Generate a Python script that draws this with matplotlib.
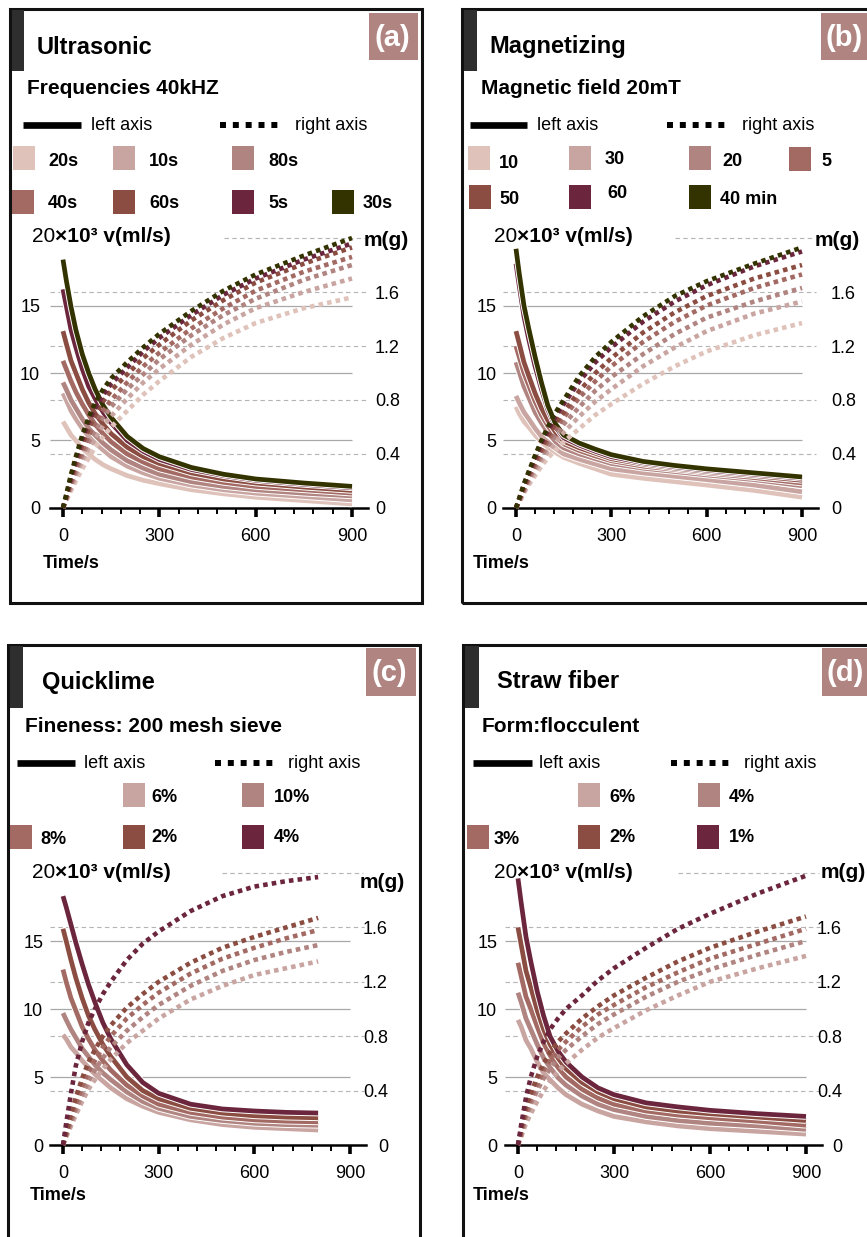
import matplotlib
matplotlib.use("Agg")
import matplotlib.pyplot as plt
import matplotlib.patheffects as pe
from matplotlib.patches import Rectangle
from matplotlib.lines import Line2D
from matplotlib.ticker import MultipleLocator

plt.rcParams['font.family'] = ['Liberation Sans', 'DejaVu Sans']

W, H = 867, 1237

# colour ramp, light to dark
PINK_1 = '#dfc3bb'
PINK_2 = '#c9a5a2'
PINK_3 = '#b08480'
PINK_4 = '#a36a64'
BROWN = '#8b4c41'
WINE = '#6b263e'
OLIVE = '#333300'

# ---- (a) ultrasonic ----
a_time = [0, 10, 25, 40, 60, 80, 100, 125, 150, 200, 250, 300, 400, 500, 600, 750, 900]
a_labels = ['20s', '10s', '80s', '40s', '60s', '5s', '30s']
a_colors = [PINK_1, PINK_2, PINK_3, PINK_4, BROWN, WINE, OLIVE]
a_flow = [
    [6.4, 6.0, 5.4, 5.0, 4.4, 4.0, 3.6, 3.2, 2.9, 2.4, 2.05, 1.8, 1.35, 1.05, 0.8, 0.55, 0.3],
    [8.5, 8.0, 7.2, 6.6, 5.9, 5.3, 4.8, 4.3, 3.8, 3.1, 2.6, 2.2, 1.7, 1.35, 1.1, 0.85, 0.6],
    [9.3, 8.8, 8.0, 7.4, 6.6, 5.9, 5.4, 4.8, 4.3, 3.5, 2.95, 2.5, 1.95, 1.6, 1.35, 1.1, 0.9],
    [10.9, 10.3, 9.4, 8.6, 7.7, 6.9, 6.2, 5.5, 4.9, 4.0, 3.4, 2.9, 2.3, 1.9, 1.6, 1.35, 1.1],
    [13.1, 12.2, 10.9, 10.0, 8.8, 7.8, 7.0, 6.2, 5.5, 4.5, 3.8, 3.3, 2.6, 2.15, 1.85, 1.55, 1.3],
    [16.2, 15.0, 13.2, 11.9, 10.3, 9.0, 8.1, 7.1, 6.3, 5.0, 4.2, 3.6, 2.85, 2.4, 2.05, 1.75, 1.5],
    [18.4, 16.9, 14.9, 13.2, 11.4, 10.0, 8.8, 7.6, 6.7, 5.3, 4.4, 3.8, 3.0, 2.5, 2.15, 1.85, 1.6],
]
a_mass = [
    [0, 0.05, 0.13, 0.20, 0.29, 0.37, 0.45, 0.53, 0.60, 0.72, 0.84, 0.94, 1.12, 1.26, 1.37, 1.48, 1.56],
    [0, 0.06, 0.15, 0.24, 0.35, 0.44, 0.52, 0.61, 0.68, 0.81, 0.93, 1.03, 1.21, 1.36, 1.48, 1.60, 1.70],
    [0, 0.07, 0.17, 0.27, 0.39, 0.49, 0.58, 0.67, 0.75, 0.88, 0.99, 1.10, 1.28, 1.43, 1.55, 1.69, 1.80],
    [0, 0.07, 0.19, 0.30, 0.42, 0.54, 0.63, 0.72, 0.80, 0.93, 1.05, 1.15, 1.33, 1.48, 1.61, 1.75, 1.86],
    [0, 0.08, 0.21, 0.33, 0.47, 0.59, 0.69, 0.79, 0.87, 0.99, 1.11, 1.21, 1.39, 1.54, 1.67, 1.81, 1.93],
    [0, 0.09, 0.23, 0.36, 0.51, 0.64, 0.74, 0.84, 0.92, 1.04, 1.16, 1.26, 1.43, 1.58, 1.70, 1.84, 1.96],
    [0, 0.10, 0.25, 0.38, 0.54, 0.67, 0.78, 0.88, 0.96, 1.08, 1.19, 1.29, 1.46, 1.61, 1.73, 1.87, 2.00],
]

# ---- (b) magnetizing ----
b_time = [0, 10, 25, 40, 60, 80, 100, 125, 150, 200, 250, 300, 400, 500, 600, 750, 900]
b_labels = ['10', '30', '20', '5', '50', '60', '40 min']
b_colors = [PINK_1, PINK_2, PINK_3, PINK_4, BROWN, WINE, OLIVE]
b_flow = [
    [7.5, 7.0, 6.4, 6.0, 5.4, 4.9, 4.5, 4.1, 3.75, 3.3, 2.9, 2.5, 2.2, 1.95, 1.7, 1.3, 0.8],
    [8.3, 7.8, 7.1, 6.6, 5.9, 5.3, 4.9, 4.4, 4.0, 3.6, 3.25, 2.9, 2.6, 2.35, 2.1, 1.7, 1.2],
    [10.8, 10.1, 9.0, 8.2, 7.1, 6.3, 5.6, 4.9, 4.45, 4.0, 3.65, 3.3, 2.95, 2.7, 2.45, 2.1, 1.65],
    [12.0, 11.2, 10.0, 9.1, 7.9, 6.9, 6.1, 5.3, 4.75, 4.25, 3.85, 3.5, 3.1, 2.85, 2.6, 2.25, 1.85],
    [13.1, 12.2, 10.8, 9.8, 8.5, 7.4, 6.5, 5.6, 4.95, 4.45, 4.05, 3.65, 3.25, 2.95, 2.7, 2.4, 2.05],
    [18.1, 16.5, 14.2, 12.5, 10.5, 8.8, 7.3, 6.0, 5.2, 4.65, 4.2, 3.8, 3.35, 3.05, 2.8, 2.5, 2.2],
    [19.2, 17.4, 15.0, 13.3, 11.2, 9.3, 7.6, 6.2, 5.4, 4.8, 4.35, 3.95, 3.45, 3.15, 2.9, 2.6, 2.3],
]
b_mass = [
    [0, 0.04, 0.11, 0.17, 0.24, 0.31, 0.37, 0.43, 0.49, 0.59, 0.69, 0.77, 0.92, 1.05, 1.16, 1.28, 1.37],
    [0, 0.05, 0.12, 0.19, 0.27, 0.35, 0.42, 0.49, 0.56, 0.68, 0.79, 0.88, 1.05, 1.19, 1.31, 1.44, 1.53],
    [0, 0.05, 0.13, 0.21, 0.30, 0.38, 0.46, 0.54, 0.62, 0.75, 0.87, 0.97, 1.14, 1.29, 1.41, 1.53, 1.63],
    [0, 0.06, 0.14, 0.23, 0.32, 0.41, 0.50, 0.59, 0.67, 0.82, 0.94, 1.05, 1.23, 1.38, 1.50, 1.63, 1.73],
    [0, 0.06, 0.15, 0.24, 0.34, 0.44, 0.53, 0.63, 0.71, 0.87, 1.00, 1.11, 1.30, 1.45, 1.57, 1.70, 1.80],
    [0, 0.07, 0.17, 0.26, 0.37, 0.48, 0.57, 0.68, 0.77, 0.94, 1.08, 1.19, 1.38, 1.53, 1.65, 1.79, 1.90],
    [0, 0.07, 0.18, 0.27, 0.39, 0.50, 0.60, 0.71, 0.80, 0.98, 1.12, 1.23, 1.42, 1.57, 1.68, 1.81, 1.93],
]

# ---- (c) quicklime ----
c_time = [0, 10, 25, 40, 60, 80, 100, 125, 150, 200, 250, 300, 400, 500, 600, 700, 800]
c_labels = ['6%', '10%', '8%', '2%', '4%']
c_colors = [PINK_2, PINK_3, PINK_4, BROWN, WINE]
c_flow = [
    [8.1, 7.8, 7.2, 6.8, 6.2, 5.7, 5.2, 4.7, 4.2, 3.4, 2.85, 2.4, 1.85, 1.5, 1.3, 1.2, 1.1],
    [9.7, 9.2, 8.5, 7.9, 7.1, 6.5, 5.9, 5.3, 4.8, 3.9, 3.2, 2.7, 2.1, 1.8, 1.6, 1.5, 1.45],
    [12.9, 12.0, 10.8, 9.9, 8.7, 7.8, 7.0, 6.2, 5.5, 4.4, 3.6, 3.0, 2.4, 2.05, 1.85, 1.75, 1.7],
    [15.9, 15.0, 13.6, 12.3, 10.8, 9.5, 8.5, 7.4, 6.5, 5.0, 4.0, 3.4, 2.7, 2.35, 2.15, 2.05, 2.0],
    [18.3, 17.5, 16.2, 14.9, 13.3, 11.8, 10.5, 9.0, 7.8, 5.9, 4.6, 3.8, 3.0, 2.65, 2.5, 2.4, 2.35],
]
c_mass = [
    [0, 0.06, 0.14, 0.22, 0.32, 0.41, 0.48, 0.56, 0.63, 0.75, 0.84, 0.93, 1.07, 1.17, 1.25, 1.30, 1.35],
    [0, 0.07, 0.17, 0.26, 0.37, 0.47, 0.55, 0.64, 0.72, 0.84, 0.94, 1.03, 1.17, 1.28, 1.36, 1.42, 1.47],
    [0, 0.08, 0.19, 0.30, 0.43, 0.54, 0.62, 0.72, 0.80, 0.93, 1.03, 1.12, 1.26, 1.37, 1.45, 1.52, 1.58],
    [0, 0.09, 0.23, 0.35, 0.49, 0.61, 0.70, 0.80, 0.88, 1.01, 1.11, 1.20, 1.34, 1.45, 1.53, 1.60, 1.67],
    [0, 0.16, 0.38, 0.58, 0.76, 0.90, 1.00, 1.11, 1.20, 1.36, 1.48, 1.57, 1.72, 1.83, 1.90, 1.94, 1.97],
]

# ---- (d) straw fiber ----
d_time = [0, 10, 25, 40, 60, 80, 100, 125, 150, 200, 250, 300, 400, 500, 600, 750, 900]
d_labels = ['6%', '4%', '3%', '2%', '1%']
d_colors = [PINK_2, PINK_3, PINK_4, BROWN, WINE]
d_flow = [
    [9.2, 8.7, 7.7, 7.1, 6.1, 5.3, 4.8, 4.2, 3.7, 3.0, 2.5, 2.1, 1.7, 1.4, 1.2, 1.0, 0.8],
    [11.2, 10.5, 9.3, 8.5, 7.4, 6.4, 5.7, 4.95, 4.4, 3.6, 3.0, 2.6, 2.1, 1.8, 1.6, 1.4, 1.15],
    [13.4, 12.4, 10.9, 10.0, 8.7, 7.5, 6.6, 5.7, 5.0, 4.1, 3.45, 3.0, 2.5, 2.2, 2.0, 1.75, 1.45],
    [16.0, 14.7, 12.8, 11.6, 9.9, 8.5, 7.4, 6.4, 5.6, 4.6, 3.9, 3.4, 2.8, 2.5, 2.3, 2.05, 1.8],
    [19.6, 17.8, 15.3, 13.5, 11.3, 9.5, 8.0, 6.9, 6.1, 5.0, 4.2, 3.7, 3.1, 2.8, 2.55, 2.3, 2.1],
]
d_mass = [
    [0, 0.06, 0.16, 0.23, 0.32, 0.40, 0.47, 0.54, 0.60, 0.70, 0.79, 0.86, 0.99, 1.10, 1.20, 1.30, 1.39],
    [0, 0.08, 0.21, 0.30, 0.40, 0.49, 0.56, 0.64, 0.70, 0.80, 0.89, 0.96, 1.09, 1.20, 1.29, 1.40, 1.50],
    [0, 0.10, 0.24, 0.34, 0.45, 0.55, 0.62, 0.70, 0.76, 0.87, 0.96, 1.03, 1.16, 1.27, 1.37, 1.48, 1.59],
    [0, 0.11, 0.28, 0.38, 0.50, 0.60, 0.68, 0.76, 0.82, 0.93, 1.02, 1.10, 1.23, 1.35, 1.45, 1.57, 1.68],
    [0, 0.15, 0.35, 0.50, 0.65, 0.76, 0.85, 0.93, 1.00, 1.10, 1.21, 1.30, 1.45, 1.59, 1.70, 1.85, 1.98],
]

# ---- panel geometry (pixels) ----
layout_a = dict(
    frame=(10, 9, 422, 603), bar=(12, 10, 24, 71), tag=(369, 13, 418, 60), tag_text='(a)',
    title=(37, 47, 'Ultrasonic'), subtitle=(27, 88, 'Frequencies 40kHZ'),
    key_y=125, solid_key=(23, 81), solid_text=91, dot_key=(220, 279), dot_text=295,
    swatches=[(13, 146), (113, 146), (232, 146), (12, 190), (113, 190), (232, 190), (332, 190)],
    swatch_text=[(48, 161), (149, 161), (268, 161), (48, 204), (149, 204), (268, 204), (363, 204)],
    x0=63, x900=352, y0=508, ppu=13.5,
    vlabel=(32, 237), mlabel=(364, 240), time_label=(43, 563),
    lpad=10, rpad=7, rha='left',
)
layout_b = dict(
    frame=(462, 9, 900, 603), bar=(464, 10, 477, 71), tag=(821, 13, 875, 60), tag_text='(b)',
    title=(489, 47, 'Magnetizing'), subtitle=(481, 88, 'Magnetic field 20mT'),
    key_y=125, solid_key=(470, 527), solid_text=537, dot_key=(667, 726), dot_text=742,
    swatches=[(468, 146), (569, 146), (689, 146), (789, 147), (469, 185), (569, 185), (689, 185)],
    swatch_text=[(499, 163), (605, 160), (722, 162), (821, 161), (499, 200), (607, 193), (720, 199)],
    x0=516, x900=802, y0=508, ppu=13.5,
    vlabel=(494, 237), mlabel=(815, 240), time_label=(473, 563),
    lpad=7, rpad=13, rha='left',
)
layout_c = dict(
    frame=(8, 645, 420, 1260), bar=(10, 646, 23, 708), tag=(366, 648, 416, 696), tag_text='(c)',
    title=(42, 682, 'Quicklime'), subtitle=(25, 727, 'Fineness: 200 mesh sieve'),
    key_y=763, solid_key=(17, 75), solid_text=84, dot_key=(215, 273), dot_text=288,
    swatches=[(123, 783), (242, 783), (10, 825), (123, 825), (242, 825)],
    swatch_text=[(151, 797), (274, 798), (40, 839), (151, 837), (274, 837)],
    x0=63, x900=350, y0=1145, ppu=13.6,
    vlabel=(32, 873), mlabel=(360, 883), time_label=(30, 1195),
    lpad=7, rpad=22, rha='right',
)
layout_d = dict(
    frame=(463, 645, 900, 1260), bar=(465, 646, 479, 708), tag=(822, 648, 875, 696), tag_text='(d)',
    title=(497, 682, 'Straw fiber'), subtitle=(482, 727, 'Form:flocculent'),
    key_y=763, solid_key=(473, 532), solid_text=539, dot_key=(671, 729), dot_text=744,
    swatches=[(578, 783), (698, 783), (467, 825), (578, 825), (697, 825)],
    swatch_text=[(609, 797), (729, 797), (494, 839), (609, 838), (729, 838)],
    x0=518, x900=806, y0=1145, ppu=13.6,
    vlabel=(494, 873), mlabel=(821, 873), time_label=(473, 1195),
    lpad=8, rpad=20, rha='right',
)

PX = 0.72  # points per pixel at 100 dpi
TAG_COLOR = '#b08480'
GRID = '#a8a8a8'

fig = plt.figure(figsize=(W / 100, H / 100), dpi=100)


def fx(x):
    return x / W


def fy(y):
    return 1 - y / H


def box(x0, y0, x1, y1, **kw):
    fig.add_artist(Rectangle((fx(x0), fy(y1)), (x1 - x0) / W, (y1 - y0) / H,
                             transform=fig.transFigure, **kw))


def draw_panel(lay, t, labels, colors, flow, mass):
    # frame, header bar and tag
    box(*lay['frame'], fill=False, lw=2.2, ec='#111111', zorder=5)
    box(*lay['bar'], fc='#2e2e2e', ec='none', zorder=5)
    box(*lay['tag'], fc=TAG_COLOR, ec='none', zorder=5)
    tx0, ty0, tx1, ty1 = lay['tag']
    fig.text(fx(tx0 + 23), fy((ty0 + ty1) / 2 + 1), lay['tag_text'],
             color='white', fontsize=21, fontweight='bold', ha='center', va='center',
             zorder=6)

    x, y, s = lay['title']
    fig.text(fx(x), fy(y), s, fontsize=17, fontweight='bold', va='center')
    x, y, s = lay['subtitle']
    fig.text(fx(x), fy(y), s, fontsize=15, fontweight='bold', va='center')

    # line-style key
    ky = fy(lay['key_y'])
    k0, k1 = lay['solid_key']
    fig.add_artist(Line2D([fx(k0), fx(k1)], [ky, ky], color='black', lw=4.8,
                          solid_capstyle='butt', transform=fig.transFigure))
    fig.text(fx(lay['solid_text']), ky, 'left axis', fontsize=13, va='center')
    k0, k1 = lay['dot_key']
    fig.add_artist(Line2D([fx(k0), fx(k1)], [ky, ky], color='black', lw=4.3,
                          linestyle=(0, (1, 1.15)), dash_capstyle='butt',
                          transform=fig.transFigure))
    fig.text(fx(lay['dot_text']), ky, 'right axis', fontsize=13, va='center')

    # colour key
    for (sx, sy), (lx, ly), lab, col in zip(lay['swatches'], lay['swatch_text'], labels, colors):
        box(sx, sy, sx + 22, sy + 24, fc=col, ec='none')
        fig.text(fx(lx), fy(ly), lab, fontsize=13, fontweight='bold', va='center')

    # plotting area
    ppx = (lay['x900'] - lay['x0']) / 900
    left = lay['x0'] - 40 * ppx
    right = lay['x0'] + 950 * ppx
    top = lay['y0'] - 21 * lay['ppu']
    ax = fig.add_axes([fx(left), fy(lay['y0']), (right - left) / W, (lay['y0'] - top) / H])
    ax.set_xlim(-40, 950)
    ax.set_ylim(0, 21)
    ax2 = ax.twinx()
    ax2.set_ylim(0, 2.1)
    for a in (ax, ax2):
        a.patch.set_visible(False)
        for side in ('left', 'right', 'top'):
            a.spines[side].set_visible(False)
    ax2.spines['bottom'].set_visible(False)
    ax.spines['bottom'].set_linewidth(1.8)

    # gridlines: solid for the left scale, dashed for the right scale
    ax.hlines([5, 10, 15], -40, 900, color=GRID, lw=0.9, zorder=0)
    ax.hlines([4, 8, 12, 16], -40, 945, color='#b4b4b4', lw=0.8,
              linestyles=(0, (4, 3)), zorder=0)
    ax.hlines(20, 500, 940, color='#b4b4b4', lw=0.8, linestyles=(0, (4, 3)), zorder=0)

    for v, col in zip(flow, colors):
        ax.plot(t, v, color=col, lw=3.4, solid_capstyle='butt', solid_joinstyle='round',
                zorder=3, clip_on=False,
                path_effects=[pe.Stroke(linewidth=4.8, foreground='white'), pe.Normal()])
    for m, col in zip(mass, colors):
        ax2.plot(t, m, color=col, lw=3.3, linestyle=(0, (1, 0.9)),
                 dash_capstyle='butt', zorder=3, clip_on=False)

    # axis ticks
    ax.set_xticks([0, 300, 600, 900])
    ax.xaxis.set_minor_locator(MultipleLocator(60))
    ax.tick_params(axis='x', which='major', direction='out', length=6.5, width=2.6,
                   labelsize=13, pad=8)
    ax.tick_params(axis='x', which='minor', direction='out', length=4.5, width=1.4)
    ax.set_yticks([0, 5, 10, 15])
    ax.set_yticklabels(['0', '5', '10', '15'])
    ax.tick_params(axis='y', length=0, labelsize=13, pad=lay['lpad'] * PX)
    ax2.set_yticks([0, 0.4, 0.8, 1.2, 1.6])
    ax2.set_yticklabels(['0', '0.4', '0.8', '1.2', '1.6'])
    ax2.tick_params(axis='y', length=0, labelsize=13, pad=lay['rpad'] * PX)
    for lab in ax2.get_yticklabels():
        lab.set_horizontalalignment(lay['rha'])

    # axis titles
    x, y = lay['vlabel']
    t1 = fig.text(fx(x), fy(y), '20', fontsize=15, va='center')
    ax.annotate('×10³ v(ml/s)', xy=(1, 0), xycoords=t1, ha='left', va='bottom',
                fontsize=15, fontweight='bold')
    x, y = lay['mlabel']
    fig.text(fx(x), fy(y), 'm(g)', fontsize=15, fontweight='bold', va='center')
    x, y = lay['time_label']
    fig.text(fx(x), fy(y), 'Time/s', fontsize=13, fontweight='bold', va='center')


draw_panel(layout_a, a_time, a_labels, a_colors, a_flow, a_mass)
draw_panel(layout_b, b_time, b_labels, b_colors, b_flow, b_mass)
draw_panel(layout_c, c_time, c_labels, c_colors, c_flow, c_mass)
draw_panel(layout_d, d_time, d_labels, d_colors, d_flow, d_mass)

fig.savefig('out.png', dpi=100)
